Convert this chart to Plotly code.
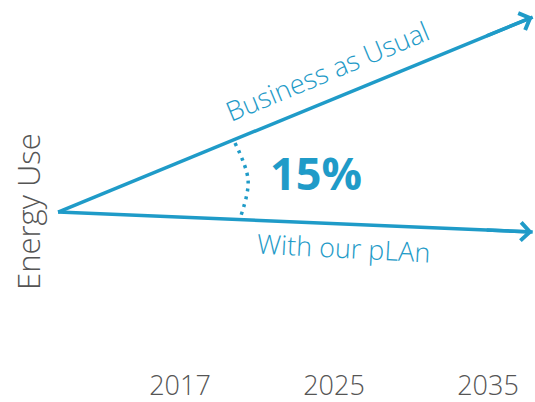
import plotly.graph_objects as go

# ---- data ----
x_labels = ["2017", "2025", "2035"]
x_ticks = [1, 2, 3]
x_path = [0.208, 3.29]            # start and end of both projections (axis units)
bau_values = [100, 225.8]          # Business as Usual energy index
plan_values = [100, 87.1]          # With our plan energy index
arc_x = [1.357, 1.442, 1.397]      # dotted bracket between the lines
arc_y = [144.5, 120.6, 98.1]
saving_label = "15%"

COLOR = "#1f9bc8"
GRAY = "#555555"
FONT = "Open Sans, sans-serif"

fig = go.Figure()
fig.add_trace(go.Scatter(x=x_path, y=bau_values, mode="lines",
                         line=dict(color=COLOR, width=3.5), hoverinfo="skip"))
fig.add_trace(go.Scatter(x=x_path, y=plan_values, mode="lines",
                         line=dict(color=COLOR, width=3.5), hoverinfo="skip"))
fig.add_trace(go.Scatter(x=arc_x, y=arc_y, mode="lines",
                         line=dict(color=COLOR, width=3.5, dash="3px,5px", shape="spline"),
                         hoverinfo="skip"))

# arrow heads
for vals in (bau_values, plan_values):
    dx = x_path[1] - x_path[0]
    dy = vals[1] - vals[0]
    t = 0.1
    fig.add_annotation(x=x_path[1], y=vals[1], ax=x_path[1] - dx * t, ay=vals[1] - dy * t,
                       xref="x", yref="y", axref="x", ayref="y", text="",
                       showarrow=True, arrowhead=4, arrowsize=1.0, arrowwidth=3.5,
                       arrowcolor=COLOR)

fig.add_annotation(x=1.96, y=191.0, text="Business as Usual", showarrow=False,
                   textangle=-22.5, font=dict(family=FONT, size=27, color=COLOR, weight=300))
fig.add_annotation(x=2.065, y=77.4, text="With our pLAn", showarrow=False,
                   textangle=3, font=dict(family=FONT, size=27, color=COLOR, weight=300))
fig.add_annotation(x=1.883, y=125.8, text=saving_label, showarrow=False,
                   font=dict(family=FONT, size=45, color=COLOR, weight=700))
fig.add_annotation(x=0.052, xref="paper", y=100.6, yref="y", text="Energy Use",
                   showarrow=False, textangle=-90, xanchor="center", yanchor="middle",
                   font=dict(family=FONT, size=31, color=GRAY, weight=300))

fig.update_layout(
    width=535, height=402,
    margin=dict(l=0, r=0, t=0, b=35),
    paper_bgcolor="white", plot_bgcolor="white",
    showlegend=False,
    xaxis=dict(range=[-0.169, 3.305], tickvals=x_ticks, ticktext=x_labels,
               showgrid=False, zeroline=False, showline=False, ticks="",
               automargin=False,
               tickfont=dict(family=FONT, size=27, color=GRAY, weight=300)),
    yaxis=dict(range=[0, 236.8], showticklabels=False, showgrid=False,
               zeroline=False, showline=False, automargin=False),
)

fig.write_html("out.html", config={"displayModeBar": False},
               post_script="document.body.style.margin='0';document.body.style.overflow='hidden';")
